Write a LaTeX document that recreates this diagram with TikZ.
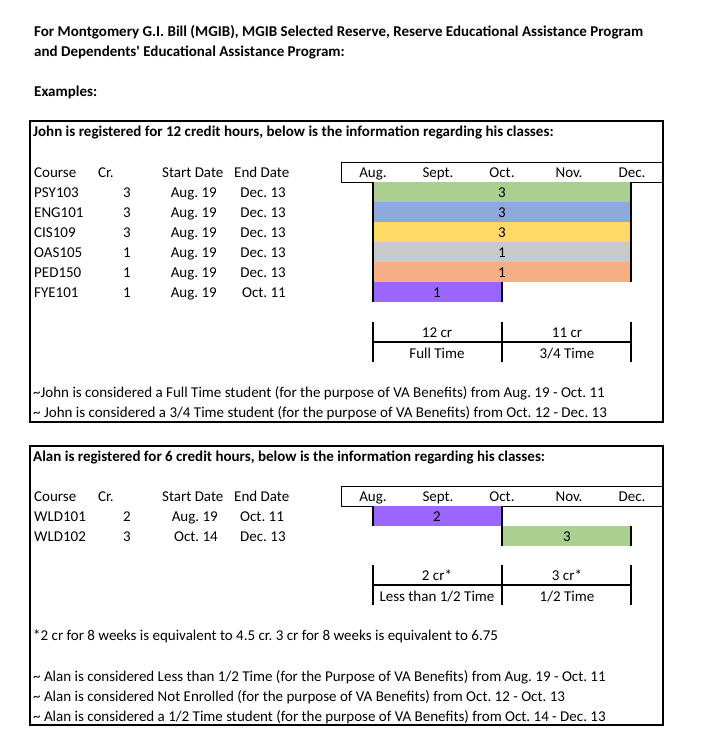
\documentclass[tikz,border=0pt]{standalone}
\usepackage{fontspec}
\setmainfont{Carlito}
\usepackage{tikz}
\usetikzlibrary{positioning}
\usepackage{xcolor}
\definecolor{barGreen}{HTML}{A9D08E}
\definecolor{barBlue}{HTML}{8EA9DB}
\definecolor{barYellow}{HTML}{FFD966}
\definecolor{barGrey}{HTML}{C9C9C9}
\definecolor{barOrange}{HTML}{F4B084}
\definecolor{barPurple}{HTML}{9966FF}

\begin{document}
\frenchspacing
\begin{tikzpicture}[x=1pt,y=-1pt,
  txt/.style={anchor=base west,inner sep=0pt,font=\fontsize{15}{18}\selectfont},
  boldtxt/.style={txt,font=\fontsize{15}{18}\selectfont\bfseries},
  rtxt/.style={txt,anchor=base east},
  ctxt/.style={txt,anchor=base},
  frame/.style={line width=2.2pt},
  edge/.style={line width=2pt}]

\useasboundingbox[fill=white] (0,0) rectangle (704,747);

\node[boldtxt] (title1) at (34,36) {For Montgomery G.I. Bill (MGIB), MGIB Selected Reserve, Reserve Educational Assistance Program};
\node[boldtxt] (title2) at (34,56) {and Dependents\textquotesingle\ Educational Assistance Program:};
\node[boldtxt] (examples) at (34,96) {Examples:};

\draw[frame] (30,121) rectangle (663,422);
\node[boldtxt] (johnHead) at (33,136) {John is registered for 12 credit hours, below is the information regarding his classes:};

\node[txt] (johnCourse) at (34,177) {Course};
\node[txt] (johnCr) at (98,177) {Cr.};
\node[txt] (johnStart) at (162,177) {Start Date};
\node[txt] (johnEnd) at (234,177) {End Date};

\node[txt] (psy) at (34,197) {PSY103};
\node[txt] (eng) at (34,217) {ENG101};
\node[txt] (cis) at (34,237) {CIS109};
\node[txt] (oas) at (34,257) {OAS105};
\node[txt] (ped) at (34,277) {PED150};
\node[txt] (fye) at (34,297) {FYE101};

\node[rtxt] (psyCr) at (131,197) {3};
\node[rtxt] (engCr) at (131,217) {3};
\node[rtxt] (cisCr) at (131,237) {3};
\node[rtxt] (oasCr) at (131,257) {1};
\node[rtxt] (pedCr) at (131,277) {1};
\node[rtxt] (fyeCr) at (131,297) {1};

\node[rtxt] (psyStart) at (217,197) {Aug. 19};
\node[rtxt] (engStart) at (217,217) {Aug. 19};
\node[rtxt] (cisStart) at (217,237) {Aug. 19};
\node[rtxt] (oasStart) at (217,257) {Aug. 19};
\node[rtxt] (pedStart) at (217,277) {Aug. 19};
\node[rtxt] (fyeStart) at (217,297) {Aug. 19};

\node[rtxt] (psyEnd) at (286,197) {Dec. 13};
\node[rtxt] (engEnd) at (286,217) {Dec. 13};
\node[rtxt] (cisEnd) at (286,237) {Dec. 13};
\node[rtxt] (oasEnd) at (286,257) {Dec. 13};
\node[rtxt] (pedEnd) at (286,277) {Dec. 13};
\node[rtxt] (fyeEnd) at (286,297) {Oct. 11};

\draw[thin] (341,162) rectangle (663,182);
\node[ctxt] (johnAug) at (373,177) {Aug.};
\node[ctxt] (johnSep) at (438,177) {Sept.};
\node[ctxt] (johnOct) at (502,177) {Oct.};
\node[ctxt] (johnNov) at (569,177) {Nov.};
\node[ctxt] (johnDec) at (632,177) {Dec.};

\fill[barGreen] (373,182) rectangle (631,202);
\fill[barBlue] (373,202) rectangle (631,222);
\fill[barYellow] (373,222) rectangle (631,242);
\fill[barGrey] (373,242) rectangle (631,262);
\fill[barOrange] (373,262) rectangle (631,282);
\fill[barPurple] (373,282) rectangle (502,302);
\draw[edge] (373,182) -- (373,302);
\draw[edge] (631,182) -- (631,282);
\draw[edge] (502,282) -- (502,302);

\node[ctxt] (psyBar) at (502,197) {3};
\node[ctxt] (engBar) at (502,217) {3};
\node[ctxt] (cisBar) at (502,237) {3};
\node[ctxt] (oasBar) at (502,257) {1};
\node[ctxt] (pedBar) at (502,277) {1};
\node[ctxt] (fyeBar) at (437,297) {1};

\draw[edge] (373,322) -- (373,362);
\draw[edge] (502,322) -- (502,362);
\draw[edge] (631,322) -- (631,362);
\draw[edge] (373,342) -- (631,342);
\node[ctxt] (johnCrA) at (437,337) {12 cr};
\node[ctxt] (johnCrB) at (567,337) {11 cr};
\node[ctxt] (johnFull) at (437,358) {Full Time};
\node[ctxt] (johnPart) at (567,358) {3/4 Time};

\node[txt] (johnNoteA) at (33,397) {\textasciitilde John is considered a Full Time student (for the purpose of VA Benefits) from Aug. 19 - Oct. 11};
\node[txt] (johnNoteB) at (33,417) {\textasciitilde\ John is considered a 3/4 Time student (for the purpose of VA Benefits) from Oct. 12 - Dec. 13};

\draw[frame] (30,446) rectangle (663,725);
\node[boldtxt] (alanHead) at (33,461) {Alan is registered for 6 credit hours, below is the information regarding his classes:};

\node[txt] (alanCourse) at (34,501) {Course};
\node[txt] (alanCr) at (98,501) {Cr.};
\node[txt] (alanStart) at (162,501) {Start Date};
\node[txt] (alanEnd) at (234,501) {End Date};

\node[txt] (wldA) at (34,521) {WLD101};
\node[txt] (wldB) at (34,541) {WLD102};
\node[rtxt] (wldACr) at (131,521) {2};
\node[rtxt] (wldBCr) at (131,541) {3};
\node[rtxt] (wldAStart) at (218,521) {Aug. 19};
\node[rtxt] (wldBStart) at (218,541) {Oct. 14};
\node[txt] (wldAEnd) at (240,521) {Oct. 11};
\node[txt] (wldBEnd) at (240,541) {Dec. 13};

\draw[thin] (341,486) rectangle (663,506);
\node[ctxt] (alanAug) at (373,501) {Aug.};
\node[ctxt] (alanSep) at (438,501) {Sept.};
\node[ctxt] (alanOct) at (502,501) {Oct.};
\node[ctxt] (alanNov) at (569,501) {Nov.};
\node[ctxt] (alanDec) at (632,501) {Dec.};

\fill[barPurple] (373,506) rectangle (502,526);
\fill[barGreen] (502,526) rectangle (631,546);
\draw[edge] (373,506) -- (373,526);
\draw[edge] (502,506) -- (502,546);
\draw[edge] (631,526) -- (631,546);
\node[ctxt] (wldABar) at (437,521) {2};
\node[ctxt] (wldBBar) at (567,541) {3};

\draw[edge] (373,565) -- (373,605);
\draw[edge] (502,565) -- (502,605);
\draw[edge] (631,565) -- (631,605);
\draw[edge] (373,585) -- (631,585);
\node[ctxt] (alanCrA) at (437,580) {2 cr*};
\node[ctxt] (alanCrB) at (567,580) {3 cr*};
\node[ctxt] (alanLess) at (437,601) {Less than 1/2 Time};
\node[ctxt] (alanHalf) at (567,601) {1/2 Time};

\node[txt] (alanStar) at (33,640) {*2 cr for 8 weeks is equivalent to 4.5 cr. 3 cr for 8 weeks is equivalent to 6.75};
\node[txt] (alanNoteA) at (33,681) {\textasciitilde\ Alan is considered Less than 1/2 Time (for the Purpose of VA Benefits) from Aug. 19 - Oct. 11};
\node[txt] (alanNoteB) at (33,701) {\textasciitilde\ Alan is considered Not Enrolled (for the purpose of VA Benefits) from Oct. 12 - Oct. 13};
\node[txt] (alanNoteC) at (33,721) {\textasciitilde\ Alan is considered a 1/2 Time student (for the purpose of VA Benefits) from Oct. 14 - Dec. 13};

\end{tikzpicture}
\end{document}
